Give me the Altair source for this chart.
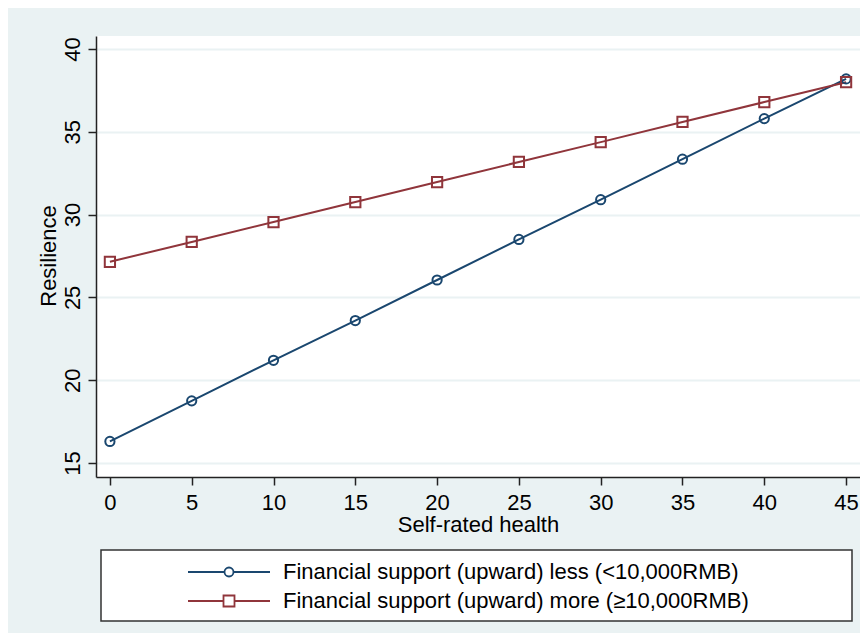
import altair as alt
import pandas as pd

health = [0, 5, 10, 15, 20, 25, 30, 35, 40, 45]
less_vals = [16.3, 18.75, 21.2, 23.6, 26.05, 28.5, 30.9, 33.35, 35.8, 38.2]
more_vals = [27.15, 28.35, 29.55, 30.76, 31.97, 33.18, 34.38, 35.6, 36.8, 38.0]
series = ["Financial support (upward) less (<10,000RMB)",
          "Financial support (upward) more (\u226510,000RMB)"]
y_ticks = [15, 20, 25, 30, 35, 40]
x_ticks = [0, 5, 10, 15, 20, 25, 30, 35, 40, 45]

rows = []
for h, v in zip(health, less_vals):
    rows.append({"health": h, "res": v, "series": series[0]})
for h, v in zip(health, more_vals):
    rows.append({"health": h, "res": v, "series": series[1]})
df = pd.DataFrame(rows)

NAVY = "#1A476F"
MAROON = "#90353B"
BG = "#EAF2F3"
FONT = "Liberation Sans"

# legend symbols: line with marker in the middle (custom paths, scale = sqrt(size)/2 = 5)
p_circle = ("M-8.2,0L-0.9,0M0.9,0A0.9,0.9,0,1,1,-0.9,0A0.9,0.9,0,1,1,0.9,0"
            "M0.9,0L8.2,0")
p_square = ("M-8.2,0L-1.1,0M-1.1,-1.1L1.1,-1.1L1.1,1.1L-1.1,1.1Z"
            "M1.1,0L8.2,0")

color_scale = alt.Scale(domain=series, range=[NAVY, MAROON])

x = alt.X("health:Q",
          scale=alt.Scale(domain=[-0.85, 45.85], nice=False, zero=False),
          axis=alt.Axis(values=x_ticks, title="Self-rated health", grid=False,
                        titleX=382, titleY=54, titleBaseline="alphabetic",
                        titleAlign="center", labelPadding=7))
y = alt.Y("res:Q",
          scale=alt.Scale(domain=[14.15, 40.79], nice=False, zero=False),
          axis=alt.Axis(values=y_ticks, title="Resilience", grid=True,
                        labelAngle=270, labelAlign="center",
                        labelBaseline="bottom", labelPadding=4,
                        titleAngle=270, titleX=-41, titleY=219.5,
                        titleBaseline="alphabetic", titleAlign="center"))

base = alt.Chart(df).encode(
    x=x, y=y,
    color=alt.Color("series:N", scale=color_scale, legend=None),
)

lines = base.mark_line(strokeWidth=2)
points = base.mark_point(filled=False, strokeWidth=2, opacity=1).encode(
    shape=alt.Shape("series:N",
                    scale=alt.Scale(domain=series, range=["circle", "square"]),
                    legend=None),
    size=alt.Size("series:N",
                  scale=alt.Scale(domain=series, range=[85, 105]),
                  legend=None),
)

legend = alt.Legend(
    title=None, orient="none", legendX=122, legendY=525,
    labelFont=FONT, labelFontSize=22, labelColor="black", labelLimit=700,
    labelOffset=43, rowPadding=7, padding=0, symbolSize=100,
    symbolStrokeWidth=1.8, symbolFillColor="transparent",
)

# legend carrier: points kept outside the clipped plot area, only its legend shows
carrier = alt.Chart(df).mark_point(
    filled=False, strokeWidth=1.8, size=100, clip=True, opacity=1
).encode(
    x=alt.value(-3000), y=alt.value(-3000),
    color=alt.Color("series:N", scale=color_scale, legend=legend),
    shape=alt.Shape("series:N",
                    scale=alt.Scale(domain=series, range=[p_circle, p_square]),
                    legend=legend),
)

box = alt.Chart(alt.Data(values=[{"k": 0}])).mark_rect(
    fill="white", stroke="#333333", strokeWidth=1.5
).encode(
    x=alt.value(5), x2=alt.value(756), y=alt.value(514), y2=alt.value(585)
)

chart = alt.layer(box, lines, points, carrier).resolve_scale(
    color="independent", shape="independent"
).properties(
    width=764, height=441,
    background=BG,
    padding={"left": 88, "top": 28, "right": 0, "bottom": 156},
    autosize=alt.AutoSizeParams(type="none"),
).configure_view(
    stroke=None, fill="white"
).configure_axis(
    labelFont=FONT, titleFont=FONT, labelFontSize=22, titleFontSize=22,
    labelColor="black", titleColor="black", titleFontWeight="normal",
    domainColor="#222222", domainWidth=1.5, tickColor="#222222",
    tickWidth=1.5, tickSize=8, gridColor=BG, gridWidth=2,
)

chart.save("out.html", embed_options={"renderer": "svg", "actions": False})
